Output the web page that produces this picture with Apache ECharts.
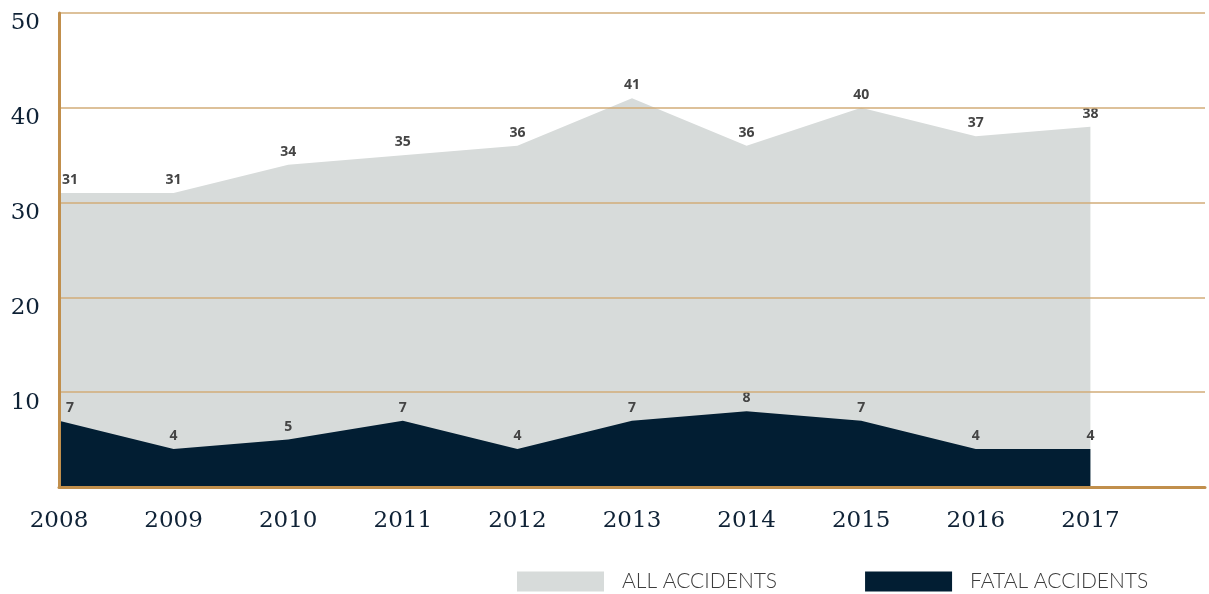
<!DOCTYPE html>
<html>
<head>
<meta charset="utf-8">
<script src="https://cdn.jsdelivr.net/npm/echarts@6/dist/echarts.min.js"></script>
<style>
html,body{margin:0;padding:0;background:#fff;}
#chart{width:1209px;height:594px;}
</style>
</head>
<body>
<div id="chart"></div>
<script>
const categories = ['2008','2009','2010','2011','2012','2013','2014','2015','2016','2017',''];
const allAccidents = [31,31,34,35,36,41,36,40,37,38];
const fatalAccidents = [7,4,5,7,4,7,8,7,4,4];
const yTicks = [0,10,20,30,40,50];

const chart = echarts.init(document.getElementById('chart'));

function withFirstOffset(arr){
  return arr.map((v,i)=> i===0 ? {value:v, label:{offset:[11,0]}} : v);
}

const labelStyle = {
  show:true, position:'top', distance:6,
  fontFamily:'Open Sans', fontWeight:'bold', fontSize:14, color:'#444444'
};

chart.setOption({
  animation:false,
  backgroundColor:'#ffffff',
  grid:{left:59,right:4,top:13,bottom:107,containLabel:false},
  legend:{
    left:517, top:571, padding:0, itemWidth:87, itemHeight:20, itemGap:88, icon:'rect',
    textStyle:{fontFamily:'Lato', fontWeight:300, fontSize:21, color:'#3c3c3c', padding:[0,0,0,13]},
    data:['ALL ACCIDENTS','FATAL ACCIDENTS']
  },
  xAxis:{
    type:'category', data:categories, boundaryGap:false, z:3,
    axisLine:{lineStyle:{color:'#c18f4c',width:3}},
    axisTick:{show:false},
    axisLabel:{margin:23, fontFamily:'DejaVu Serif', fontSize:23, color:'#0f2236', interval:0},
    splitLine:{show:false}
  },
  yAxis:{
    type:'value', min:0, max:50, interval:10, z:3,
    axisLine:{show:true, lineStyle:{color:'#c18f4c',width:3}},
    axisTick:{show:false},
    axisLabel:{margin:19, fontFamily:'DejaVu Serif', fontSize:23, color:'#0f2236',
      verticalAlign:'top', lineHeight:21,
      formatter:(v)=> (v===0 ? '' : String(v))},
    splitLine:{lineStyle:{color:'#d2ac78',width:1.5}}
  },
  series:[
    {
      name:'ALL ACCIDENTS', type:'line', data:withFirstOffset(allAccidents),
      symbol:'circle', symbolSize:0, showSymbol:true, lineStyle:{width:0}, z:1,
      itemStyle:{color:'#d7dbda'},
      areaStyle:{color:'#d7dbda', opacity:1},
      label:labelStyle
    },
    {
      name:'FATAL ACCIDENTS', type:'line', data:withFirstOffset(fatalAccidents),
      symbol:'circle', symbolSize:0, showSymbol:true, lineStyle:{width:0}, z:2,
      itemStyle:{color:'#021e33'},
      areaStyle:{color:'#021e33', opacity:1},
      label:labelStyle
    }
  ]
});
</script>
</body>
</html>
